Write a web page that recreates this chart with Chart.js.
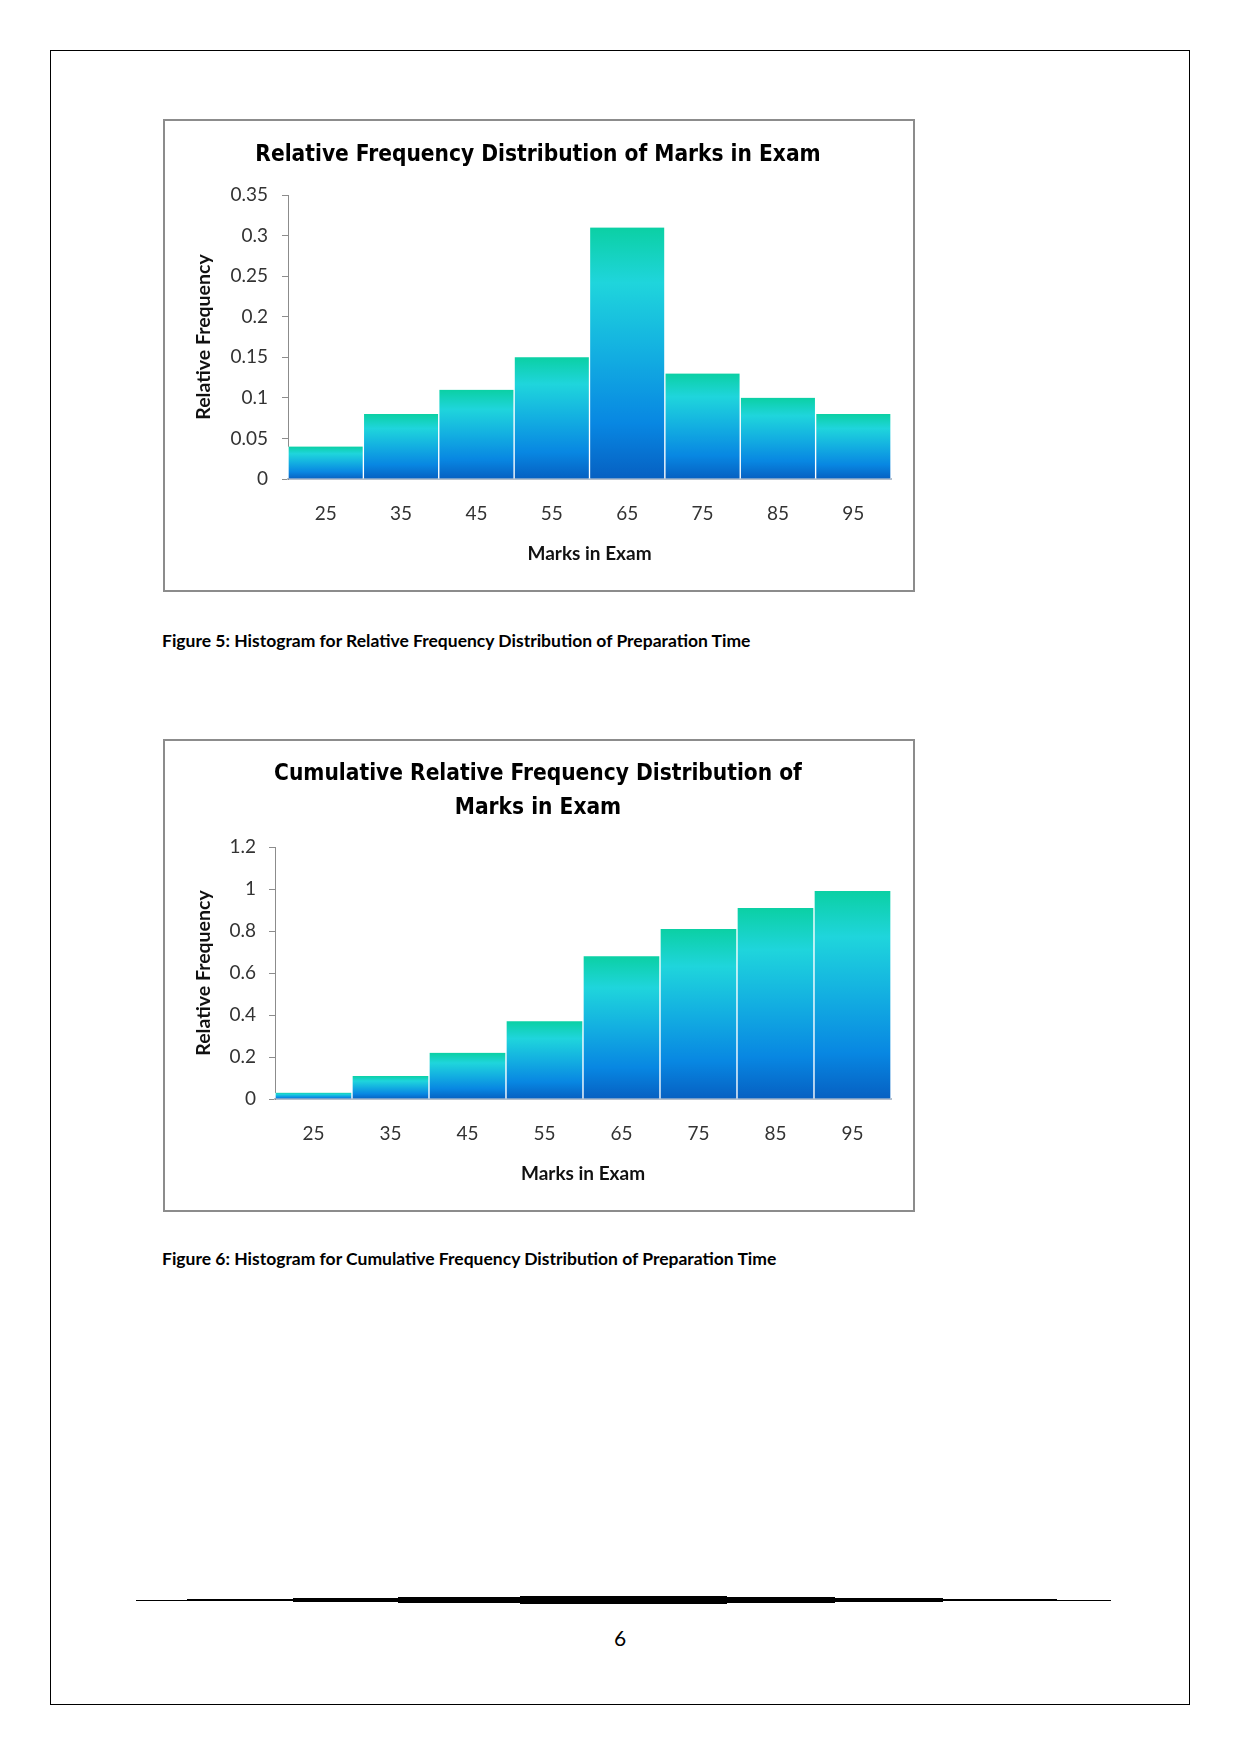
<!DOCTYPE html>
<html>
<head>
<meta charset="utf-8">
<title>Marks in Exam</title>
<script src="https://cdn.jsdelivr.net/npm/chart.js@4.4.0/dist/chart.umd.min.js"></script>
<style>
  body { margin: 0; background: #fff; width: 1241px; height: 1754px; position: relative; font-family: Lato, sans-serif; }
  #page { position: absolute; left: 50px; top: 50px; width: 1140px; height: 1655px; border: 1.5px solid #000; box-sizing: border-box; }
  .box { position: absolute; left: 163px; width: 752px; height: 473px; border: 2px solid #8c8c8c; box-sizing: border-box; }
  canvas { position: absolute; left: 163px; }
  .caption { position: absolute; left: 162px; font-weight: bold; font-size: 17.5px; color: #000; white-space: nowrap; line-height: 22px; }
  .rule { position: absolute; background: #000; }
  #pageno { position: absolute; left: 600px; width: 40px; top: 1625px; text-align: center; font-size: 21px; line-height: 26px; }
</style>
</head>
<body>
<div id="page"></div>

<div class="box" style="top:119px"></div>
<canvas id="chart1" width="752" height="473" style="top:119px"></canvas>
<div class="caption" style="top:630px">Figure 5: Histogram for Relative Frequency Distribution of Preparation Time</div>

<div class="box" style="top:739px"></div>
<canvas id="chart2" width="752" height="473" style="top:739px"></canvas>
<div class="caption" style="top:1248px">Figure 6: Histogram for Cumulative Frequency Distribution of Preparation Time</div>

<!-- footer rule, thicker in the middle -->
<div class="rule" style="left:136px; width:975px; top:1599.5px; height:1px"></div>
<div class="rule" style="left:187px; width:870px; top:1598.8px; height:2.5px"></div>
<div class="rule" style="left:293px; width:650px; top:1598px; height:4px"></div>
<div class="rule" style="left:398px; width:437px; top:1597px; height:6px"></div>
<div class="rule" style="left:520px; width:207px; top:1596px; height:8px"></div>
<div id="pageno">6</div>

<script>
// data
const marks = ["25", "35", "45", "55", "65", "75", "85", "95"];
const relFreq = [0.04, 0.08, 0.11, 0.15, 0.31, 0.13, 0.10, 0.08];
const cumFreq = [0.03, 0.11, 0.22, 0.37, 0.68, 0.81, 0.91, 0.99];

const title1 = "Relative Frequency Distribution of Marks in Exam";
const title2 = ["Cumulative Relative Frequency Distribution of", "Marks in Exam"];
const xTitle = "Marks in Exam";
const yTitle = "Relative Frequency";

const yMax1 = 0.35, yStep1 = 0.05;
const yMax2 = 1.2, yStep2 = 0.2;

const narrow = "'Liberation Sans Narrow', 'DejaVu Sans Condensed', sans-serif";

// teal -> blue gradient over each bar's own height
function barGradient(context) {
  let chart = context.chart;
  let y = chart.scales.y;
  let v = context.parsed ? context.parsed.y : null;
  if (!y || v == null) return "#12ade0";
  let top = y.getPixelForValue(v);
  let bottom = y.getPixelForValue(0);
  if (!isFinite(top) || !isFinite(bottom) || bottom - top < 1) return "#12ade0";
  let g = chart.ctx.createLinearGradient(0, top, 0, bottom);
  g.addColorStop(0, "#0bd0a4");
  g.addColorStop(0.22, "#1fd5dc");
  g.addColorStop(0.5, "#13afe1");
  g.addColorStop(0.78, "#0887e2");
  g.addColorStop(1, "#0660c2");
  return g;
}

function tickText(value) {
  return String(Math.round(value * 100) / 100);
}

function makeChart(id, title, values, yMax, yStep, t) {
  return new Chart(document.getElementById(id), {
    type: "bar",
    data: {
      labels: marks,
      datasets: [
        {
          data: values,
          backgroundColor: barGradient,
          borderColor: "#ffffff",
          borderWidth: { left: 1, right: 1, top: 0, bottom: 0 },
          borderSkipped: "bottom",
          categoryPercentage: 1,
          barPercentage: 1,
        },
      ],
    },
    options: {
      responsive: false,
      animation: false,
      devicePixelRatio: 1,
      // left/right padding keeps the title centred on the box
      layout: { padding: { left: 22, right: 24, top: 0, bottom: 0 } },
      plugins: {
        legend: { display: false },
        tooltip: { enabled: false },
        title: {
          display: true,
          text: title,
          color: "#000",
          font: { family: narrow, size: 22.5, weight: "bold", lineHeight: t.titleLine },
          padding: { top: t.titleTop, bottom: t.titleBottom },
        },
      },
      scales: {
        x: {
          grid: { display: false },
          border: { display: true, color: "#b3bfcd", width: 2 },
          ticks: { color: "#333", font: { family: "Lato", size: 19 }, padding: 15, maxRotation: 0 },
          title: {
            display: true,
            text: xTitle,
            color: "#111",
            font: { family: "Lato", size: 19, weight: "bold", lineHeight: 1.2 },
            padding: { top: 0, bottom: 26.6 },
          },
          afterFit: function (scale) { scale.height = t.xHeight; },
        },
        y: {
          min: 0,
          max: yMax,
          grid: { display: true, drawOnChartArea: false, drawTicks: true, tickLength: 6, color: "#8c8c8c" },
          border: { display: true, color: "#8c8c8c", width: 1 },
          ticks: { stepSize: yStep, color: "#333", font: { family: "Lato", size: 19 }, padding: t.tickPad, callback: tickText },
          title: {
            display: true,
            text: yTitle,
            color: "#111",
            font: { family: "Lato", size: 19.5, weight: "bold", lineHeight: 1.2 },
            padding: { top: 7.3, bottom: 0 },
          },
          afterFit: function (scale) { scale.width = t.yWidth; },
        },
      },
    },
  });
}

let chart1 = makeChart("chart1", title1, relFreq, yMax1, yStep1,
  { titleLine: 32.4 / 22.5, titleTop: 20.2, titleBottom: 23.4, yWidth: 103, xHeight: 113, tickPad: 14 });

let chart2 = makeChart("chart2", title2, cumFreq, yMax2, yStep2,
  { titleLine: 34 / 22.5, titleTop: 18.2, titleBottom: 21.8, yWidth: 90, xHeight: 113, tickPad: 13 });
</script>
</body>
</html>
